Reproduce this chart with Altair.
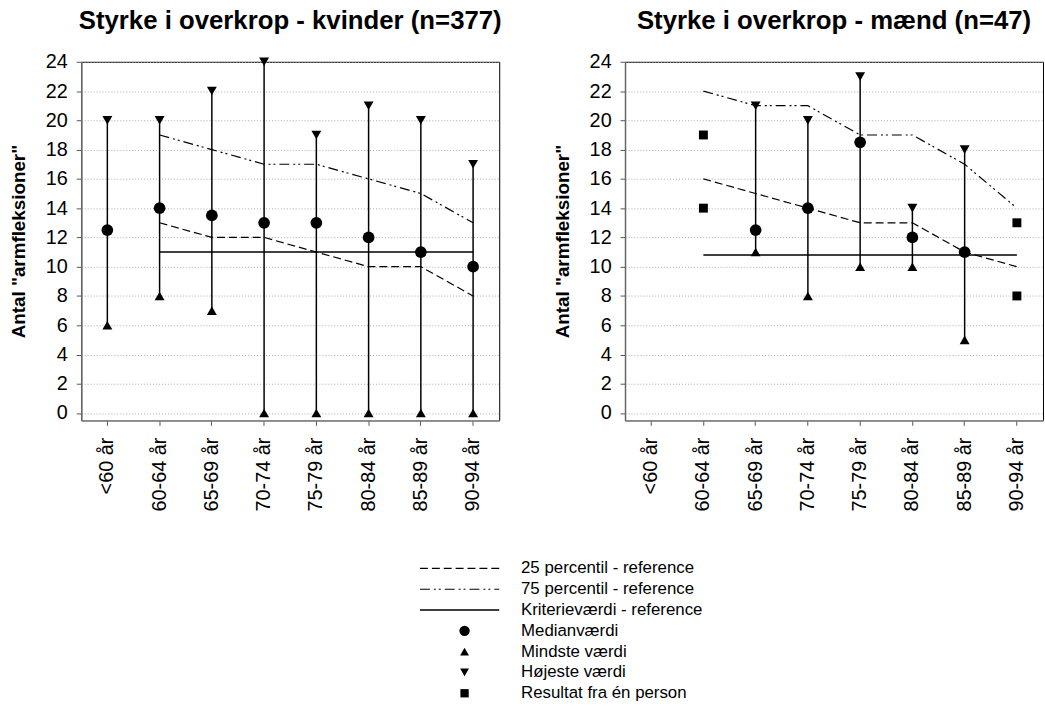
import altair as alt
import pandas as pd

FONT = "Liberation Sans"

ages = ["<60 år", "60-64 år", "65-69 år", "70-74 år", "75-79 år", "80-84 år", "85-89 år", "90-94 år"]

# Kvinder
k_median = [12.5, 14, 13.5, 13, 13, 12, 11, 10]
k_min = [6, 8, 7, 0, 0, 0, 0, 0]
k_max = [20, 20, 22, 24, 19, 21, 20, 17]
k_p25 = [None, 13, 12, 12, 11, 10, 10, 8]
k_p75 = [None, 19, 18, 17, 17, 16, 15, 13]
k_crit = [None, 11, 11, 11, 11, 11, 11, 11]
k_single_age = []
k_single = []

# Mænd
m_median = [None, None, 12.5, 14, 18.5, 12, 11, None]
m_min = [None, None, 11, 8, 10, 10, 5, None]
m_max = [None, None, 21, 20, 23, 14, 18, None]
m_p25 = [None, 16, 15, 14, 13, 13, 11, 10]
m_p75 = [None, 22, 21, 21, 19, 19, 17, 14]
m_crit = [None, 10.8, 10.8, 10.8, 10.8, 10.8, 10.8, 10.8]
m_single_age = ["60-64 år", "60-64 år", "90-94 år", "90-94 år"]
m_single = [19, 14, 13, 8]

y_ticks = [0, 2, 4, 6, 8, 10, 12, 14, 16, 18, 20, 22, 24]

leg_labels = [
    "25 percentil - reference",
    "75 percentil - reference",
    "Kriterieværdi - reference",
    "Medianværdi",
    "Mindste værdi",
    "Højeste værdi",
    "Resultat fra én person",
]
leg_kind = ["p25", "p75", "crit", "circle", "triangle-up", "triangle-down", "square"]

DASH_P25 = [8, 4]
DASH_P75 = [10, 4, 2, 3, 2, 4]

W, H = 422, 362


def panel(median, vmin, vmax, p25, p75, crit, s_age, s_val, title):
    stats = pd.DataFrame({"age": ages, "median": median, "min": vmin, "max": vmax})
    stats = stats.dropna()
    ref = pd.DataFrame({"age": ages, "p25": p25, "p75": p75, "crit": crit}).dropna()
    singles = pd.DataFrame({"age": s_age, "value": s_val})

    xenc = alt.X(
        "age:N",
        sort=ages,
        scale=alt.Scale(domain=ages, paddingInner=0, paddingOuter=0),
        axis=alt.Axis(
            title=None,
            labelAngle=-90,
            labelAlign="right",
            labelBaseline="middle",
            labelFontSize=20,
            labelFont=FONT,
            labelColor="black",
            labelPadding=12,
            tickSize=5,
            tickColor="#555",
            domainColor="#888",
            domainWidth=1.5,
            grid=False,
        ),
    )
    yscale = alt.Scale(domain=[-0.5, 24], nice=False, zero=False)
    yaxis = alt.Axis(
        title='Antal "armfleksioner"',
        titleFont=FONT,
        titleFontSize=19,
        titleFontWeight="bold",
        titleColor="black",
        titlePadding=17,
        values=y_ticks,
        tickCount=13,
        labelOverlap=False,
        labelFontSize=20,
        labelFont=FONT,
        labelColor="black",
        labelPadding=9,
        tickSize=5,
        tickColor="#555",
        domainColor="#666",
        domainWidth=1.5,
        grid=True,
        gridColor="#aaa",
        gridDash=[1, 2],
        gridWidth=1,
    )

    def Y(field):
        return alt.Y(field, scale=yscale, axis=yaxis)

    base_ref = alt.Chart(ref).encode(x=xenc)
    l25 = base_ref.mark_line(color="black", strokeWidth=1.2, strokeDash=DASH_P25).encode(y=Y("p25:Q"))
    l75 = base_ref.mark_line(color="black", strokeWidth=1.2, strokeDash=DASH_P75).encode(y=Y("p75:Q"))
    lcr = base_ref.mark_line(color="black", strokeWidth=1.5).encode(y=Y("crit:Q"))

    layers = [l25, l75, lcr]
    if len(stats):
        base = alt.Chart(stats).encode(x=xenc)
        bars = base.mark_rule(color="black", strokeWidth=1.5).encode(y=Y("min:Q"), y2="max:Q")
        mins = base.mark_point(shape="triangle-up", filled=True, color="black", size=100, opacity=1).encode(y=Y("min:Q"))
        maxs = base.mark_point(shape="triangle-down", filled=True, color="black", size=100, opacity=1).encode(y=Y("max:Q"))
        meds = base.mark_point(shape="circle", filled=True, color="black", size=140, opacity=1).encode(y=Y("median:Q"))
        layers += [bars, mins, maxs, meds]
    if len(singles):
        sq = alt.Chart(singles).mark_point(shape="square", filled=True, color="black", size=81, opacity=1).encode(
            x=xenc, y=Y("value:Q")
        )
        layers.append(sq)

    return alt.layer(*layers).properties(
        width=W,
        height=H,
        title=alt.TitleParams(
            text=title,
            font=FONT,
            fontSize=26,
            fontWeight="bold",
            color="black",
            anchor="middle",
            frame="group",
            offset=18,
        ),
        view=alt.ViewBackground(stroke="black", strokeWidth=1),
    )


left = panel(k_median, k_min, k_max, k_p25, k_p75, k_crit, k_single_age, k_single,
             "Styrke i overkrop - kvinder (n=377)")
right = panel(m_median, m_min, m_max, m_p25, m_p75, m_crit, m_single_age, m_single,
              "Styrke i overkrop - mænd (n=47)")

leg = pd.DataFrame({"label": leg_labels, "kind": leg_kind})
yl = alt.Y("label:N", sort=leg_labels, axis=None,
           scale=alt.Scale(domain=leg_labels, paddingInner=0, paddingOuter=0))
lb = alt.Chart(leg).encode(y=yl)
LX0, LX1, SX, TX = 342, 422, 387, 444
leg_layers = [
    lb.transform_filter(alt.datum.kind == "p25").mark_rule(color="black", strokeWidth=1.2, strokeDash=DASH_P25)
      .encode(x=alt.value(LX0), x2=alt.value(LX1)),
    lb.transform_filter(alt.datum.kind == "p75").mark_rule(color="black", strokeWidth=1.2, strokeDash=DASH_P75)
      .encode(x=alt.value(LX0), x2=alt.value(LX1)),
    lb.transform_filter(alt.datum.kind == "crit").mark_rule(color="black", strokeWidth=1.5)
      .encode(x=alt.value(LX0), x2=alt.value(LX1)),
    lb.transform_filter(alt.datum.kind == "circle").mark_point(shape="circle", filled=True, color="black", size=110, opacity=1)
      .encode(x=alt.value(SX)),
    lb.transform_filter(alt.datum.kind == "triangle-up").mark_point(shape="triangle-up", filled=True, color="black", size=80, opacity=1)
      .encode(x=alt.value(SX)),
    lb.transform_filter(alt.datum.kind == "triangle-down").mark_point(shape="triangle-down", filled=True, color="black", size=80, opacity=1)
      .encode(x=alt.value(SX)),
    lb.transform_filter(alt.datum.kind == "square").mark_point(shape="square", filled=True, color="black", size=70, opacity=1)
      .encode(x=alt.value(SX)),
    lb.mark_text(align="left", baseline="middle", font=FONT, fontSize=17, color="black")
      .encode(x=alt.value(TX), text="label:N"),
]
legend = alt.layer(*leg_layers).properties(
    width=900, height=147, view=alt.ViewBackground(stroke="transparent")
)

chart = alt.vconcat(
    alt.hconcat(left, right, spacing=50),
    legend,
    spacing=46,
).properties(
    padding={"left": 9, "right": 1, "top": 4, "bottom": 0},
    background="white",
)

chart.save("out.html", embed_options={"renderer": "svg", "actions": False})
